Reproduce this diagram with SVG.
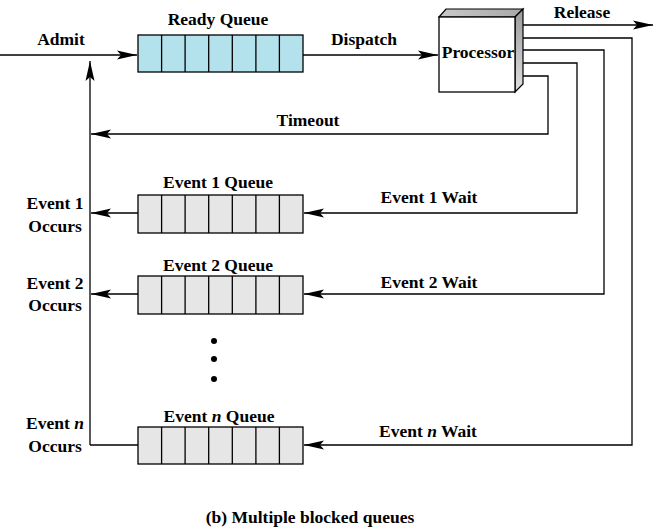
<svg xmlns="http://www.w3.org/2000/svg" width="657" height="531" viewBox="0 0 657 531">
<style>
text{font-family:"Liberation Serif","Times New Roman",serif;font-weight:bold;font-size:17.5px;fill:#000}
.m{text-anchor:middle}
.ln{fill:none;stroke:#000;stroke-width:1.3}
.cell{stroke:#000;stroke-width:1.3}
.rq{fill:#b4e2ec}
.eq{fill:#e6e6e6}
</style>
<defs>
<marker id="ah" markerUnits="userSpaceOnUse" markerWidth="22" markerHeight="12" refX="20" refY="5" orient="auto">
<path d="M0,0.5 L20,5 L0,9.5 L4,5 z" fill="#000"/>
</marker>
<linearGradient id="side" x1="0" y1="0" x2="0" y2="1">
<stop offset="0" stop-color="#9a9a9a"/>
<stop offset="1" stop-color="#e0e0e0"/>
</linearGradient>
<linearGradient id="top" x1="0" y1="0" x2="1" y2="0">
<stop offset="0" stop-color="#c8c8c8"/>
<stop offset="1" stop-color="#a8a8a8"/>
</linearGradient>
</defs>

<g id="connectors">
<path class="ln" d="M0,55 H137" marker-end="url(#ah)"/>
<path class="ln" d="M303,55 H438" marker-end="url(#ah)"/>
<path class="ln" d="M90,445 V61" marker-end="url(#ah)"/>
<path class="ln" d="M90,445 H138"/>
<path class="ln" d="M138,213 H91" marker-end="url(#ah)"/>
<path class="ln" d="M138,294 H91" marker-end="url(#ah)"/>
<path class="ln" d="M517,25 H653" marker-end="url(#ah)"/>
<path class="ln" d="M517,38 H632 V445 H304" marker-end="url(#ah)"/>
<path class="ln" d="M517,50 H604 V294 H304" marker-end="url(#ah)"/>
<path class="ln" d="M517,63 H577 V213 H304" marker-end="url(#ah)"/>
<path class="ln" d="M517,76 H548 V134 H91" marker-end="url(#ah)"/>
</g>

<g id="labels">
<text class="m" x="61" y="45">Admit</text>
<text class="m" x="364" y="45">Dispatch</text>
<text class="m" x="582" y="18">Release</text>
<text class="m" x="308" y="126">Timeout</text>
<text class="m" x="429" y="203">Event 1 Wait</text>
<text class="m" x="429" y="288">Event 2 Wait</text>
<text class="m" x="428" y="437">Event <tspan font-style="italic">n</tspan> Wait</text>
<text class="m" x="55" y="209">Event 1</text>
<text class="m" x="55" y="232">Occurs</text>
<text class="m" x="55" y="289">Event 2</text>
<text class="m" x="55" y="311">Occurs</text>
<text class="m" x="55" y="429">Event <tspan font-style="italic">n</tspan></text>
<text class="m" x="55" y="452">Occurs</text>
<text class="m" x="310" y="523" font-size="16.5">(b) Multiple blocked queues</text>
</g>

<g id="processor">
<polygon points="439,17 446,9 523,9 515,17" fill="url(#top)" stroke="#000" stroke-width="1.2"/>
<polygon points="515,17 523,9 523,84 515,92" fill="url(#side)" stroke="#000" stroke-width="1.2"/>
<rect x="439" y="17" width="76" height="75" fill="#fff" stroke="#000" stroke-width="1.3"/>
<text class="m" x="478" y="58" font-size="15.5">Processor</text>
</g>

<g id="ready-queue">
<text class="m" x="218" y="25">Ready Queue</text>
<rect class="cell rq" x="138" y="35" width="165" height="37"/>
<path class="ln" d="M161.6,35V72M185.1,35V72M208.7,35V72M232.3,35V72M255.9,35V72M279.4,35V72"/>
</g>

<g id="event1-queue">
<text class="m" x="218" y="188">Event 1 Queue</text>
<rect class="cell eq" x="138" y="195" width="165" height="38"/>
<path class="ln" d="M161.6,195V233M185.1,195V233M208.7,195V233M232.3,195V233M255.9,195V233M279.4,195V233"/>
</g>

<g id="event2-queue">
<text class="m" x="218" y="271">Event 2 Queue</text>
<rect class="cell eq" x="138" y="276" width="165" height="38"/>
<path class="ln" d="M161.6,276V314M185.1,276V314M208.7,276V314M232.3,276V314M255.9,276V314M279.4,276V314"/>
</g>

<g id="ellipsis">
<circle cx="214" cy="341" r="3"/>
<circle cx="214" cy="359" r="3"/>
<circle cx="214" cy="379" r="3"/>
</g>

<g id="eventn-queue">
<text class="m" x="219" y="422">Event <tspan font-style="italic">n</tspan> Queue</text>
<rect class="cell eq" x="138" y="427" width="165" height="37"/>
<path class="ln" d="M161.6,427V464M185.1,427V464M208.7,427V464M232.3,427V464M255.9,427V464M279.4,427V464"/>
</g>
</svg>
